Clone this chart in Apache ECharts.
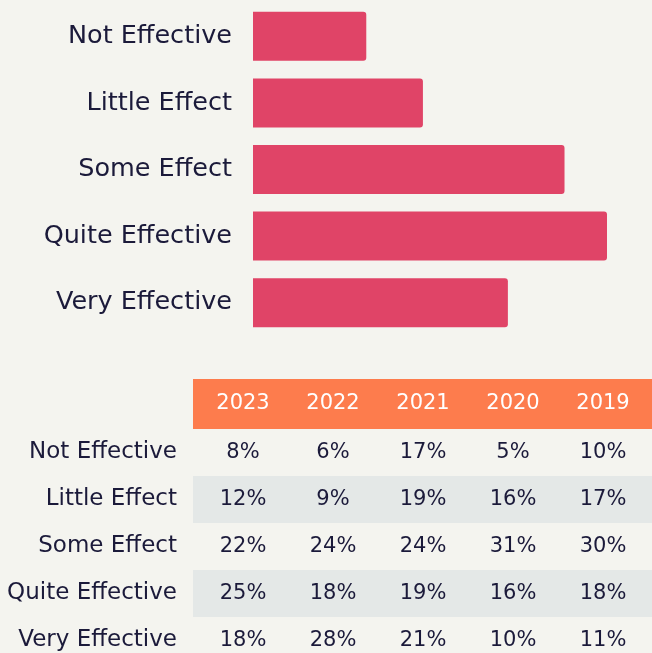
<!DOCTYPE html>
<html>
<head>
<meta charset="utf-8">
<script src="https://cdn.jsdelivr.net/npm/echarts@6/dist/echarts.min.js"></script>
<style>
  html, body { margin: 0; padding: 0; background: #f4f4ef; }
  #main { width: 652px; height: 653px; }
</style>
</head>
<body>
<div id="main"></div>
<script>
var categories = ['Not Effective', 'Little Effect', 'Some Effect', 'Quite Effective', 'Very Effective'];
var years = ['2023', '2022', '2021', '2020', '2019'];
var v2023 = [8, 12, 22, 25, 18];
var v2022 = [6, 9, 24, 18, 28];
var v2021 = [17, 19, 24, 19, 21];
var v2020 = [5, 16, 31, 16, 10];
var v2019 = [10, 17, 30, 18, 11];

var yearValues = [v2023, v2022, v2021, v2020, v2019];
var FONT = 'DejaVu Sans';
var TEXT = '#1b1a3a';

// table cells: [yearIndex, rowIndex, value]
var cells = [];
yearValues.forEach(function (arr, xi) {
    arr.forEach(function (v, yi) {
        cells.push([xi, yi, v]);
    });
});
// striped rows (every second row)
var stripes = [];
categories.forEach(function (c, i) {
    if (i % 2 === 1) stripes.push([0, i]);
});

var myChart = echarts.init(document.getElementById('main'));
myChart.setOption({
    backgroundColor: '#f4f4ef',
    animation: false,
    grid: [
        { left: 253, top: 3, right: 45, height: 333, outerBoundsMode: 'none' },
        { left: 198, top: 429, right: 4, height: 235, outerBoundsMode: 'none' }
    ],
    xAxis: [
        { gridIndex: 0, type: 'value', min: 0, max: 25, show: false },
        {
            gridIndex: 1, type: 'category', data: years, position: 'top',
            axisLine: { show: false }, axisTick: { show: false },
            axisLabel: { color: '#ffffff', fontSize: 21, fontFamily: FONT, margin: 15 },
            z: 10
        }
    ],
    yAxis: [
        {
            gridIndex: 0, type: 'category', data: categories, inverse: true,
            axisLine: { show: false }, axisTick: { show: false },
            axisLabel: { color: TEXT, fontSize: 25.5, fontFamily: FONT, margin: 21 }
        },
        {
            gridIndex: 1, type: 'category', data: categories, inverse: true,
            axisLine: { show: false }, axisTick: { show: false },
            axisLabel: { color: TEXT, fontSize: 23, fontFamily: FONT, margin: 21 }
        }
    ],
    series: [
        {
            type: 'bar',
            xAxisIndex: 0, yAxisIndex: 0,
            data: v2023,
            barWidth: 49,
            itemStyle: { color: '#e04467', borderRadius: [0, 3, 3, 0] }
        },
        {
            // orange header band
            type: 'custom',
            xAxisIndex: 1, yAxisIndex: 1,
            data: [[0, 0]],
            clip: false,
            z: 1,
            renderItem: function (params, api) {
                var cs = params.coordSys;
                return {
                    type: 'rect',
                    shape: { x: cs.x - 5, y: cs.y - 50, width: cs.width + 9, height: 50 },
                    style: { fill: '#fd7c4d' }
                };
            }
        },
        {
            // grey striped rows
            type: 'custom',
            xAxisIndex: 1, yAxisIndex: 1,
            data: stripes,
            clip: false,
            z: 1,
            renderItem: function (params, api) {
                var cs = params.coordSys;
                var c = api.coord([0, api.value(1)]);
                var h = api.size([0, 1])[1];
                return {
                    type: 'rect',
                    shape: { x: cs.x - 5, y: c[1] - h / 2, width: cs.width + 9, height: h },
                    style: { fill: '#e4e8e7' }
                };
            }
        },
        {
            // cell values
            type: 'custom',
            xAxisIndex: 1, yAxisIndex: 1,
            data: cells,
            clip: false,
            z: 5,
            renderItem: function (params, api) {
                var p = api.coord([api.value(0), api.value(1)]);
                return {
                    type: 'text',
                    style: {
                        x: p[0], y: p[1],
                        text: api.value(2) + '%',
                        align: 'center', verticalAlign: 'middle',
                        fill: TEXT,
                        font: '21px ' + FONT
                    }
                };
            }
        }
    ]
});
</script>
</body>
</html>
